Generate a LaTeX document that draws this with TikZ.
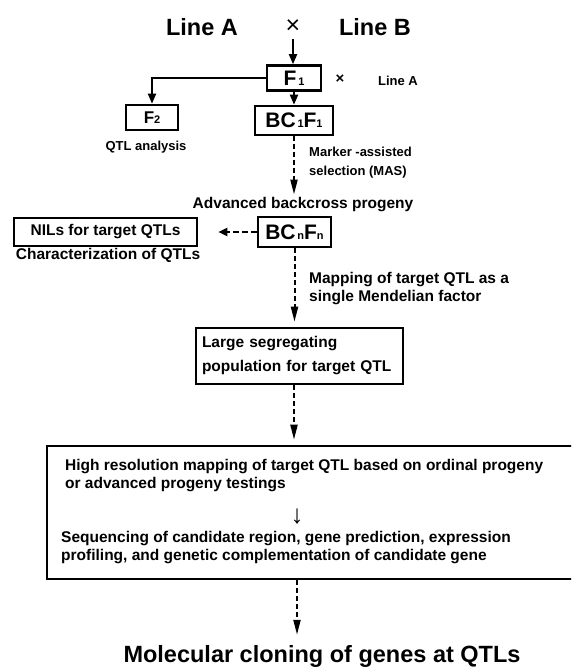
\documentclass[tikz,border=0pt]{standalone}
\usepackage{fontspec}
\setmainfont{Liberation Sans}
\usetikzlibrary{arrows.meta, positioning}

% generation symbol: large letters followed by small index
\newcommand{\gensym}[3]{{\fontsize{#1}{#1}\selectfont #2}{\fontsize{11}{11}\selectfont #3}}

\tikzset{
	box/.style={draw, line width=2.6pt, inner sep=0pt},
	link/.style={line width=2pt, -{Triangle[length=10pt,width=8pt]}},
	dlink/.style={line width=2pt, dash pattern=on 5pt off 3pt, -{Triangle[length=15pt,width=7pt]}},
	bigtext/.style={font=\bfseries\fontsize{23.5}{26}\selectfont, inner sep=0pt},
	midtext/.style={font=\bfseries\fontsize{15.5}{18}\selectfont, inner sep=0pt, align=left},
	smalltext/.style={font=\bfseries\fontsize{13}{19}\selectfont, inner sep=0pt, align=left}
}

\begin{document}
\begin{tikzpicture}[x=1pt, y=-1pt]
		\clip (0,0) rectangle (571,669);
		
		% parents
		\node[bigtext] (lineA) at (202,27) {Line A};
		\node[bigtext, font=\fontsize{25}{26}\selectfont] (cross) at (293,27) {×};
		\node[bigtext] (lineB) at (375,27) {Line B};
		
		% F1, F2 and first backcross
		\node[box, minimum width=54pt, minimum height=25pt] (f1) at (294,78) {\bfseries\gensym{21}{F}{\,1}};
		\node[smalltext, font=\bfseries\fontsize{15}{15}\selectfont] (cross2) at (340,79) {×};
		\node[smalltext] (lineA2) at (398,81) {Line A};
		\node[box, minimum width=52pt, minimum height=25pt] (f2) at (152,117.5) {\bfseries\gensym{17}{F}{2}};
		\node[smalltext] (qtl) at (146,147) {QTL analysis};
		\node[box, minimum width=78pt, minimum height=29pt] (bc1) at (294,120.5) {\bfseries\gensym{21}{BC}{\,1}\gensym{21}{F}{1}};
		
		\draw[link, shorten <=5pt] (cross.south) -- (cross.south |- f1.north);
		\draw[link] (f1.west) -| (f2.north);
		\draw[link] (f1) -- (bc1);
		
		% marker-assisted selection
		\node[smalltext, anchor=west] (mas) at (309,163) {Marker -assisted\\selection (MAS)};
		\node[midtext] (adv) at (303,205) {Advanced backcross progeny};
		\draw[dlink, shorten >=3pt] (bc1) -- (bc1 |- adv.north);
		
		% advanced backcross
		\node[midtext, box, minimum width=183pt, minimum height=28pt] (nils) at (105.5,232) {NILs for target QTLs};
		\node[midtext] (char) at (108,255) {Characterization of QTLs};
		\node[box, minimum width=73pt, minimum height=30pt] (bcn) at (294.5,232) {\bfseries\gensym{21}{BC}{\,n}\gensym{21}{F}{n}};
		\draw[line width=2pt, dash pattern=on 6pt off 3pt, -{Triangle[length=9pt,width=8pt]}, shorten >=20pt] (bcn.west) -- (nils.east);
		
		% mapping as a single factor
		\node[midtext, anchor=west] (map) at (309,288.5) {Mapping of target QTL as a\\single Mendelian factor};
		\node[midtext, box, minimum width=207pt, minimum height=56pt, text width=195pt, inner xsep=6pt, font=\bfseries\fontsize{15.5}{24}\selectfont] (large) at (299.5,356) {Large segregating\\population for target QTL};
		\draw[dlink, shorten >=5pt] (bcn.south) -- (bcn.south |- large.north);
		
		% fine mapping
		\node[box, minimum width=533pt, minimum height=133pt] (hires) at (313.5,512.5) {};
		\node[midtext, anchor=west] (hr1) at (65,476) {High resolution mapping of target QTL based on ordinal progeny\\or advanced progeny testings};
		\node[font=\fontsize{26}{26}\selectfont, inner sep=0pt] (down) at (297,517) {↓};
		\node[midtext, anchor=west] (hr2) at (61,547.5) {Sequencing of candidate region, gene prediction, expression\\profiling, and genetic complementation of candidate gene};
		\draw[dlink, shorten >=5pt] (large.south -| bc1) -- (hires.north -| bc1);
		
		% cloning
		\node[bigtext] (mol) at (322,656) {Molecular cloning of genes at QTLs};
		\draw[dlink, shorten >=10pt] (hires.south -| down) -- (down |- mol.north);
	\end{tikzpicture}
\end{document}
